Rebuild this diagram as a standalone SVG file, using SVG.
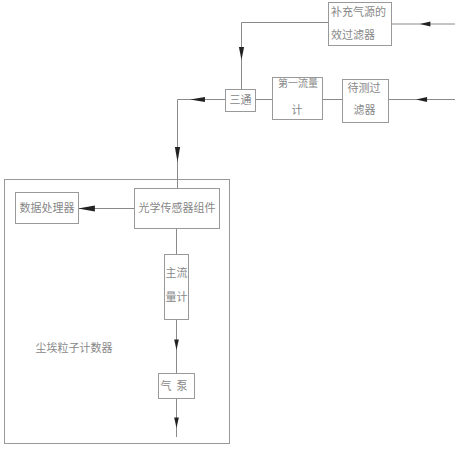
<svg xmlns="http://www.w3.org/2000/svg" width="455" height="450" viewBox="0 0 455 450">
<style>
.box{fill:#fff;stroke:#999;stroke-width:1}
.ln{fill:none;stroke:#8a8a8a;stroke-width:1}
text{font-family:"Noto Sans CJK SC","Noto Sans CJK JP",sans-serif;font-size:11px;fill:#888}
text.sm{font-size:10px}
.ah{fill:#222}
</style>
<defs>
<path id="ah" d="M0,0 L-13,-2.6 L-13,2.6 Z"/>
</defs>
<rect width="455" height="450" fill="#fff"/>
<g id="counter">
<rect class="box" x="4.5" y="179.5" width="225" height="264"/>
<text x="74" y="352" text-anchor="middle">尘埃粒子计数器</text>
</g>
<g id="connectors">
<path class="ln" d="M455,24 H391"/>
<path class="ln" d="M328,22.5 H241.5 V89"/>
<path class="ln" d="M455,99.5 H388 M342,99.5 H322 M272,99.5 H255 M225,99.5 H177.5 V188"/>
<path class="ln" d="M134,208.5 H78"/>
<path class="ln" d="M176.5,228 V254 M176.5,319 V373 M176.5,398 V437"/>
<use class="ah" href="#ah" transform="translate(420,24) rotate(180) scale(0.8,1)"/>
<use class="ah" href="#ah" transform="translate(416,99.5) rotate(180) scale(0.85,1)"/>
<use class="ah" href="#ah" transform="translate(241.5,60) rotate(90)"/>
<use class="ah" href="#ah" transform="translate(190,99.5) rotate(180) scale(1.15,1)"/>
<use class="ah" href="#ah" transform="translate(177.5,162) rotate(90) scale(1.15,1)"/>
<use class="ah" href="#ah" transform="translate(78,208.5) rotate(180) scale(1.3,1.2)"/>
<use class="ah" href="#ah" transform="translate(176.5,350) rotate(90) scale(0.8,0.9)"/>
<use class="ah" href="#ah" transform="translate(176.5,428) rotate(90) scale(0.8,0.9)"/>
</g>
<g id="supply-filter">
<rect class="box" x="328.5" y="2.5" width="63" height="43"/>
<text x="331" y="16">补充气源的</text>
<text x="331" y="39">效过滤器</text>
</g>
<g id="tee">
<rect class="box" x="225.5" y="89.5" width="30" height="22"/>
<text x="240.5" y="104" text-anchor="middle">三通</text>
</g>
<g id="flowmeter1">
<rect class="box" x="272.5" y="77.5" width="50" height="42"/>
<text class="sm" x="298" y="87" text-anchor="middle">第一流量</text>
<text x="297" y="114" text-anchor="middle">计</text>
</g>
<g id="test-filter">
<rect class="box" x="342.5" y="79.5" width="46" height="43"/>
<text x="364" y="92" text-anchor="middle">待测过</text>
<text x="364.5" y="114" text-anchor="middle">滤器</text>
</g>
<g id="optical-sensor">
<rect class="box" x="134.5" y="188.5" width="85" height="40"/>
<text x="177" y="212" text-anchor="middle">光学传感器组件</text>
</g>
<g id="data-processor">
<rect class="box" x="15.5" y="192.5" width="63" height="31"/>
<text x="47" y="212" text-anchor="middle">数据处理器</text>
</g>
<g id="main-flowmeter">
<rect class="box" x="164.5" y="254.5" width="24" height="65"/>
<text x="176.5" y="277" text-anchor="middle">主流</text>
<text x="176.5" y="301" text-anchor="middle">量计</text>
</g>
<g id="pump">
<rect class="box" x="158.5" y="373.5" width="36" height="25"/>
<text x="176.5" y="390" text-anchor="middle" letter-spacing="5">气泵</text>
</g>
</svg>
